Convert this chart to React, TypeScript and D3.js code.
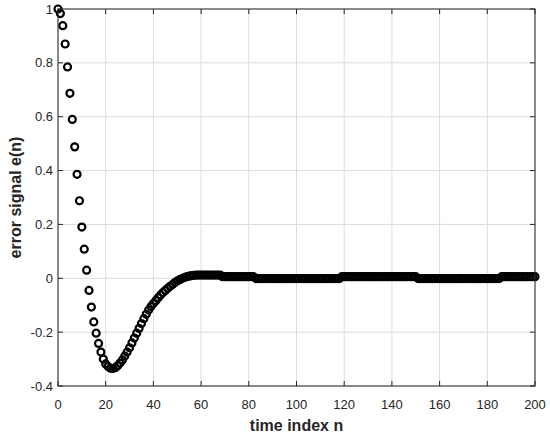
import * as d3 from "d3";
import { useEffect, useRef } from "react";

// error signal e(n), n = 0..200
const errStart = [
  1.0, 0.983, 0.938, 0.87, 0.785, 0.687, 0.59, 0.488, 0.386, 0.288,
  0.19, 0.108, 0.03, -0.045, -0.107, -0.162, -0.204, -0.242, -0.274, -0.3,
  -0.318, -0.328, -0.334, -0.335, -0.332, -0.325, -0.315, -0.303, -0.289, -0.274,
  -0.258, -0.24, -0.222, -0.204, -0.186, -0.168, -0.15, -0.134, -0.118, -0.105,
  -0.094, -0.083, -0.072, -0.062, -0.053, -0.045, -0.037, -0.03, -0.023, -0.016,
  -0.01, -0.005, -0.001, 0.003, 0.006, 0.008, 0.01, 0.011,
];
// n = 58..68
const errPlateau1 = [0.012, 0.012, 0.012, 0.012, 0.012, 0.012, 0.012, 0.012, 0.012, 0.012, 0.012];
// n = 69..82
const errPlateau2 = [0.006, 0.006, 0.006, 0.006, 0.006, 0.006, 0.006, 0.006, 0.006, 0.006, 0.006, 0.006, 0.006, 0.006];
// n = 83..118
const errPlateau3 = [
  -0.001, -0.001, -0.001, -0.001, -0.001, -0.001, -0.001, -0.001, -0.001, -0.001,
  -0.001, -0.001, -0.001, -0.001, -0.001, -0.001, -0.001, -0.001, -0.001, -0.001,
  -0.001, -0.001, -0.001, -0.001, -0.001, -0.001, -0.001, -0.001, -0.001, -0.001,
  -0.001, -0.001, -0.001, -0.001, -0.001, -0.001,
];
// n = 119..150
const errPlateau4 = [
  0.006, 0.006, 0.006, 0.006, 0.006, 0.006, 0.006, 0.006, 0.006, 0.006,
  0.006, 0.006, 0.006, 0.006, 0.006, 0.006, 0.006, 0.006, 0.006, 0.006,
  0.006, 0.006, 0.006, 0.006, 0.006, 0.006, 0.006, 0.006, 0.006, 0.006,
  0.006, 0.006,
];
// n = 151..185
const errPlateau5 = [
  -0.001, -0.001, -0.001, -0.001, -0.001, -0.001, -0.001, -0.001, -0.001, -0.001,
  -0.001, -0.001, -0.001, -0.001, -0.001, -0.001, -0.001, -0.001, -0.001, -0.001,
  -0.001, -0.001, -0.001, -0.001, -0.001, -0.001, -0.001, -0.001, -0.001, -0.001,
  -0.001, -0.001, -0.001, -0.001, -0.001,
];
// n = 186..200
const errEnd = [0.006, 0.006, 0.006, 0.006, 0.006, 0.006, 0.006, 0.006, 0.006, 0.006, 0.006, 0.006, 0.006, 0.006, 0.006];

const xTicks = [0, 20, 40, 60, 80, 100, 120, 140, 160, 180, 200];
const yTicks = [-0.4, -0.2, 0, 0.2, 0.4, 0.6, 0.8, 1];

const W = 550;
const H = 436;
const margin = { top: 9, right: 15, bottom: 50, left: 58 };
const font = "'Liberation Sans', Arial, Helvetica, sans-serif";

export default function App() {
  const svgRef = useRef<SVGSVGElement>(null);

  useEffect(() => {
    if (!svgRef.current) return;
    const err = [
      ...errStart,
      ...errPlateau1,
      ...errPlateau2,
      ...errPlateau3,
      ...errPlateau4,
      ...errPlateau5,
      ...errEnd,
    ];
    const data = err.map((v, n) => ({ n, v }));

    const innerW = W - margin.left - margin.right;
    const innerH = H - margin.top - margin.bottom;
    const x = d3.scaleLinear().domain([0, 200]).range([0, innerW]);
    const y = d3.scaleLinear().domain([-0.4, 1]).range([innerH, 0]);

    const svg = d3.select(svgRef.current);
    svg.selectAll("*").remove();
    svg.append("rect").attr("width", W).attr("height", H).attr("fill", "#fff");
    const g = svg.append("g").attr("transform", `translate(${margin.left},${margin.top})`);

    // Grid
    g.selectAll("line.gx")
      .data(xTicks)
      .enter()
      .append("line")
      .attr("x1", (d) => x(d))
      .attr("x2", (d) => x(d))
      .attr("y1", 0)
      .attr("y2", innerH)
      .attr("stroke", "#dcdcdc")
      .attr("stroke-width", 1);
    g.selectAll("line.gy")
      .data(yTicks)
      .enter()
      .append("line")
      .attr("x1", 0)
      .attr("x2", innerW)
      .attr("y1", (d) => y(d))
      .attr("y2", (d) => y(d))
      .attr("stroke", "#dcdcdc")
      .attr("stroke-width", 1);

    // Markers
    g.selectAll("circle")
      .data(data)
      .enter()
      .append("circle")
      .attr("cx", (d) => x(d.n))
      .attr("cy", (d) => y(d.v))
      .attr("r", 3.5)
      .attr("fill", "none")
      .attr("stroke", "#000")
      .attr("stroke-width", 2.2);

    // Box and inward ticks
    const axisColor = "#262626";
    g.append("rect")
      .attr("width", innerW)
      .attr("height", innerH)
      .attr("fill", "none")
      .attr("stroke", axisColor)
      .attr("stroke-width", 1);
    const tl = 5;
    xTicks.forEach((t) => {
      g.append("line").attr("x1", x(t)).attr("x2", x(t)).attr("y1", innerH).attr("y2", innerH - tl).attr("stroke", axisColor);
      g.append("line").attr("x1", x(t)).attr("x2", x(t)).attr("y1", 0).attr("y2", tl).attr("stroke", axisColor);
      g.append("text")
        .attr("x", x(t))
        .attr("y", innerH + 23)
        .attr("text-anchor", "middle")
        .attr("font-family", font)
        .attr("font-size", 13)
        .attr("fill", axisColor)
        .text(String(t));
    });
    yTicks.forEach((t) => {
      g.append("line").attr("x1", 0).attr("x2", tl).attr("y1", y(t)).attr("y2", y(t)).attr("stroke", axisColor);
      g.append("line").attr("x1", innerW).attr("x2", innerW - tl).attr("y1", y(t)).attr("y2", y(t)).attr("stroke", axisColor);
      g.append("text")
        .attr("x", -5)
        .attr("y", y(t) + 4.5)
        .attr("text-anchor", "end")
        .attr("font-family", font)
        .attr("font-size", 13)
        .attr("fill", axisColor)
        .text(String(t));
    });

    // Axis labels
    g.append("text")
      .attr("x", innerW / 2)
      .attr("y", innerH + 45)
      .attr("text-anchor", "middle")
      .attr("font-family", font)
      .attr("font-size", 16)
      .attr("font-weight", "bold")
      .attr("fill", axisColor)
      .text("time index n");
    g.append("text")
      .attr("transform", `translate(${-37},${innerH / 2}) rotate(-90)`)
      .attr("text-anchor", "middle")
      .attr("font-family", font)
      .attr("font-size", 16)
      .attr("font-weight", "bold")
      .attr("fill", axisColor)
      .text("error signal e(n)");
  }, []);

  return (
    <svg
      ref={svgRef}
      width={W}
      height={H}
      viewBox={`0 0 ${W} ${H}`}
      style={{ position: "absolute", left: 0, top: 0, display: "block" }}
    />
  );
}
